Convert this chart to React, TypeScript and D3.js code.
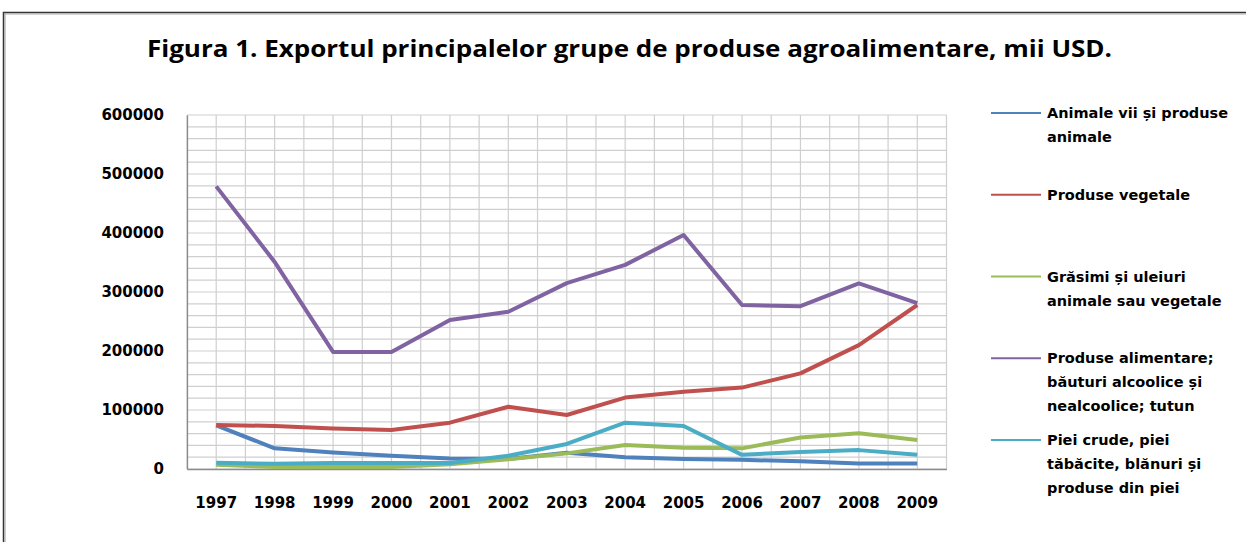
import React, { useEffect, useRef } from "react";
import * as d3 from "d3";

const years = ["1997", "1998", "1999", "2000", "2001", "2002", "2003", "2004", "2005", "2006", "2007", "2008", "2009"];

const animale = [74000, 35000, 28000, 22500, 18000, 17000, 27500, 20000, 17000, 15500, 13000, 9500, 9500];
const vegetale = [74500, 73000, 68500, 66000, 78500, 105500, 91500, 121000, 131000, 138000, 162000, 210000, 278000];
const grasimi = [7000, 3500, 3500, 3500, 8000, 16500, 26500, 40500, 36000, 35000, 53500, 60500, 49000];
const alimentare = [479000, 351000, 198500, 198500, 252500, 266500, 315000, 346000, 396500, 278000, 276000, 314500, 281000];
const piei = [10500, 9000, 10000, 10000, 10000, 22500, 42500, 78500, 73000, 24000, 29000, 32000, 24000];

const yTicks = [0, 100000, 200000, 300000, 400000, 500000, 600000];

const seriesNames = [
  ["Animale vii și produse", "animale"],
  ["Produse vegetale"],
  ["Grăsimi și uleiuri", "animale sau vegetale"],
  ["Produse alimentare;", "băuturi alcoolice și", "nealcoolice; tutun"],
  ["Piei crude, piei", "tăbăcite, blănuri și", "produse din piei"],
];
const seriesValues = [animale, vegetale, grasimi, alimentare, piei];
const seriesColors = ["#4F81BD", "#C0504D", "#9BBB59", "#8064A2", "#4BACC6"];

const W = 1246;
const H = 542;
const plotLeft = 187;
const plotRight = 946.5;
const plotTop = 115;
const plotBottom = 469;

export default function App() {
  const svgRef = useRef<SVGSVGElement>(null);

  useEffect(() => {
    const svg = d3.select(svgRef.current);
    svg.selectAll("*").remove();

    const x = d3.scaleBand().domain(years).range([plotLeft, plotRight]).padding(0);
    const y = d3.scaleLinear().domain([0, 600000]).range([plotBottom, plotTop]);

    // outer frame
    svg.append("path").attr("d", `M3.5,${H} V12.5 H${W}`).attr("fill", "none").attr("stroke", "#333").attr("stroke-width", 1.5);
    svg.append("path").attr("d", `M5,${H} V14 H${W}`).attr("fill", "none").attr("stroke", "#aaa").attr("stroke-width", 1.2);

    // title
    svg
      .append("text")
      .attr("x", 147)
      .attr("y", 57)
      .attr("textLength", 965)
      .attr("lengthAdjust", "spacingAndGlyphs")
      .style("font-family", "'Open Sans', sans-serif")
      .style("font-weight", "bold")
      .style("font-size", "24px")
      .attr("fill", "#000")
      .text("Figura 1. Exportul principalelor grupe de produse agroalimentare, mii USD.");

    // grid
    const grid = svg.append("g");
    const hVals = d3.range(0, 600001, 20000);
    grid
      .selectAll("line.h")
      .data(hVals)
      .join("line")
      .attr("x1", plotLeft)
      .attr("x2", plotRight)
      .attr("y1", (d) => y(d))
      .attr("y2", (d) => y(d))
      .attr("stroke", "#cfcfcf")
      .attr("stroke-width", 1.2);
    const vVals: number[] = [];
    years.forEach((yr) => {
      vVals.push(x(yr)!);
      vVals.push(x(yr)! + x.bandwidth() / 2);
    });
    vVals.push(plotRight);
    grid
      .selectAll("line.v")
      .data(vVals)
      .join("line")
      .attr("x1", (d) => d)
      .attr("x2", (d) => d)
      .attr("y1", plotTop)
      .attr("y2", plotBottom)
      .attr("stroke", "#cfcfcf")
      .attr("stroke-width", 1.2);

    // axes
    svg
      .append("g")
      .attr("transform", `translate(${plotLeft},0)`)
      .call(d3.axisLeft(y).tickValues(yTicks).tickSize(0).tickPadding(23).tickFormat((d) => String(d)))
      .call((g) => g.select(".domain").attr("stroke", "#8c8c8c").attr("stroke-width", 1.3))
      .call((g) =>
        g
          .selectAll("text")
          .attr("fill", "#000")
          .style("font-family", "'DejaVu Sans', sans-serif")
          .style("font-weight", "bold")
          .style("font-size", "15px")
      );

    svg
      .append("g")
      .attr("transform", `translate(0,${plotBottom})`)
      .call(d3.axisBottom(x).tickSize(0).tickPadding(28))
      .call((g) => g.select(".domain").attr("stroke", "#8c8c8c").attr("stroke-width", 1.3))
      .call((g) =>
        g
          .selectAll("text")
          .attr("fill", "#000")
          .style("font-family", "'DejaVu Sans', sans-serif")
          .style("font-weight", "bold")
          .style("font-size", "15px")
      );

    // lines
    const line = d3
      .line<number>()
      .x((_, i) => x(years[i])! + x.bandwidth() / 2)
      .y((d) => y(d));

    seriesValues.forEach((vals, i) => {
      svg
        .append("path")
        .datum(vals)
        .attr("d", line)
        .attr("fill", "none")
        .attr("stroke", seriesColors[i])
        .attr("stroke-width", 4)
        .attr("stroke-linejoin", "round");
    });

    // legend
    const ly = d3.scaleLinear().domain([0, 4]).range([113, 440]);
    seriesNames.forEach((lines, i) => {
      const g = svg.append("g").attr("transform", `translate(0,${ly(i)})`);
      g.append("line").attr("x1", 991).attr("x2", 1041).attr("y1", 0).attr("y2", 0).attr("stroke", seriesColors[i]).attr("stroke-width", 2);
      lines.forEach((t, j) => {
        g.append("text")
          .attr("x", 1047)
          .attr("y", 5 + j * 24)
          .attr("fill", "#000")
          .style("font-family", "'DejaVu Sans', sans-serif")
          .style("font-weight", "bold")
          .style("font-size", "14.5px")
          .text(t);
      });
    });
  }, []);

  return (
    <svg
      ref={svgRef}
      width={W}
      height={H}
      style={{ position: "absolute", left: 0, top: 0, background: "#fff" }}
    />
  );
}
